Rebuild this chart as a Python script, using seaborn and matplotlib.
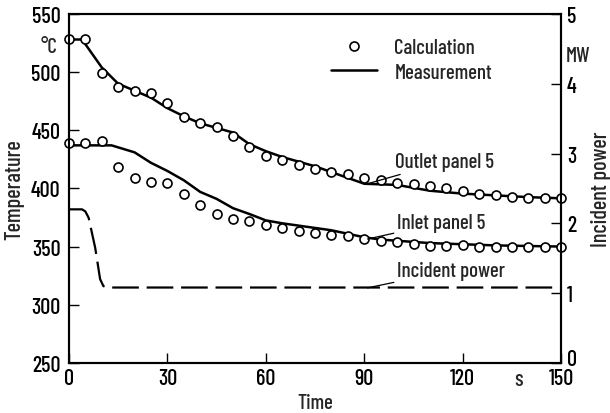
import matplotlib
matplotlib.use("Agg")
import matplotlib.pyplot as plt
import matplotlib.transforms as mtrans
from matplotlib.lines import Line2D
import seaborn as sns
import pandas as pd

# ---- data ----
calc_time = [0, 5, 10, 15, 20, 25, 30, 35, 40, 45, 50, 55, 60, 65, 70, 75,
             80, 85, 90, 95, 100, 105, 110, 115, 120, 125, 130, 135, 140, 145, 150]
calc_outlet = [528, 528, 499, 487, 484, 482, 473, 461, 456, 453, 445, 436, 428, 424,
               420, 417, 414, 412, 409, 407, 405, 404, 402, 400, 398, 395, 394, 393,
               392, 392, 391.5]
calc_inlet = [439, 439, 440.5, 418, 409, 405.5, 404.5, 395, 385.5, 378, 374, 372,
              368.6, 366, 363.7, 361.7, 360, 358.9, 356.5, 355, 353.7, 352.2, 350.8,
              350.5, 351, 350, 350, 350, 350, 350, 350]

meas_out_time = [0, 4, 7, 10, 15, 20, 25, 30, 35, 40, 45, 50, 55, 60, 65, 70, 75,
                 80, 85, 90, 95, 100, 110, 120, 130, 140, 150]
meas_outlet = [528, 528, 516, 504, 490, 484, 478, 469, 462, 456, 452, 448, 438, 432,
               427, 423, 419, 414, 409, 404, 403.5, 403, 398, 395.5, 394, 392.5, 391.5]

meas_in_time = [0, 13, 20, 25, 30, 35, 40, 45, 50, 55, 60, 65, 70, 75, 80, 85, 90,
                95, 100, 110, 120, 130, 140, 150]
meas_inlet = [437, 437, 431, 422, 415, 407, 397, 391, 383, 378, 372.5, 370, 368, 366,
              364, 361, 358, 356, 355, 353, 352, 351, 350.5, 350]

power_time = [0, 4, 5, 6, 8, 9.5, 10.5, 12, 150]
power_mw = [2.2, 2.2, 2.17, 2.08, 1.65, 1.2, 1.1, 1.08, 1.08]

x_ticks = [0, 30, 60, 90, 120, 150]
y_ticks = [250, 300, 350, 400, 450, 500, 550]
p_ticks = [0, 1, 2, 3, 4, 5]

# ---- style ----
sns.set_style("ticks")
plt.rcParams['font.family'] = ['Barlow Condensed', 'DejaVu Sans']
plt.rcParams['font.weight'] = 'medium'
plt.rcParams['axes.labelweight'] = 'medium'
plt.rcParams['axes.linewidth'] = 1.5

fig = plt.figure(figsize=(6.1, 4.14), dpi=100)
ax = fig.add_axes([0.113, 0.121, 0.807, 0.843])
ax2 = ax.twinx()

calc = pd.DataFrame({"t": calc_time, "out": calc_outlet, "in": calc_inlet})
mo = pd.DataFrame({"t": meas_out_time, "v": meas_outlet})
mi = pd.DataFrame({"t": meas_in_time, "v": meas_inlet})
pw = pd.DataFrame({"t": power_time, "p": power_mw})

sns.lineplot(data=mo, x="t", y="v", ax=ax, color="black", lw=1.8, clip_on=False, zorder=2)
sns.lineplot(data=mi, x="t", y="v", ax=ax, color="black", lw=1.8, clip_on=False, zorder=2)
for col in ["out", "in"]:
    sns.scatterplot(data=calc, x="t", y=col, ax=ax, marker="o", s=42,
                    facecolor="white", edgecolor="black", linewidth=1.2,
                    clip_on=False, zorder=3)

sns.lineplot(data=pw, x="t", y="p", ax=ax2, color="black", lw=1.6,
             dashes=False, clip_on=False)
ax2.lines[0].set_dashes([12, 3.5])

ax.set_xlim(0, 150)
ax.set_ylim(250, 550)
ax2.set_ylim(0, 5)
ax.set_xticks(x_ticks)
ax.set_yticks(y_ticks)
ax2.set_yticks(p_ticks)
fs = 16
ax.tick_params(axis="x", direction="in", length=7, width=1.0, labelsize=fs, pad=4,
               colors="black")
ax.tick_params(axis="y", direction="in", length=7, width=1.0, labelsize=fs, pad=6,
               colors="black")
ax2.tick_params(axis="y", direction="in", length=7, width=1.0, labelsize=fs, pad=4,
                colors="black")
for a in (ax, ax2):
    for s in a.spines.values():
        s.set_linewidth(1.5)
        s.set_color("black")
        s.set_visible(True)

# lift the right-hand "0" a little so it clears the "150" below it
fig.canvas.draw()
lab0 = ax2.get_yticklabels()[0]
lab0.set_transform(lab0.get_transform() +
                   mtrans.ScaledTranslation(0, 4 / 72, fig.dpi_scale_trans))

ax.set_xlabel("Time", fontsize=15, labelpad=3)
ax.set_ylabel("Temperature", fontsize=16, labelpad=5)
ax2.set_ylabel("Incident power", fontsize=16, labelpad=10)

# unit labels
ax.text(-6, 522, "°C", fontsize=15, ha="center", va="center", clip_on=False)
ax2.text(155, 4.4, "MW", fontsize=15, ha="center", va="center", clip_on=False)
ax.text(137, 250 - 5.5, "s", fontsize=fs, ha="center", va="top", clip_on=False)

# curve annotations
akw = dict(arrowprops=dict(arrowstyle="-", color="black", lw=0.9,
                           shrinkA=0, shrinkB=0),
           fontsize=15, ha="left", va="center")
ax.annotate("Outlet panel 5", xy=(91, 404), xytext=(99.5, 423), **akw)
ax.annotate("Inlet panel 5", xy=(91, 356.5), xytext=(100, 370.5), **akw)
ax.annotate("Incident power", xy=(91, 314.5), xytext=(100, 329.5), **akw)

# legend
handles = [Line2D([], [], ls="none", marker="o", ms=6.5, mfc="white", mec="black", mew=1.2),
           Line2D([], [], color="black", lw=1.8)]
ax.legend(handles, ["Calculation", "Measurement"], loc="upper left",
          bbox_to_anchor=(0.532, 0.93), frameon=False, fontsize=15,
          handlelength=2.2, handletextpad=0.85, borderpad=0, borderaxespad=0,
          labelspacing=0.25)

fig.savefig("out.png", dpi=100)
